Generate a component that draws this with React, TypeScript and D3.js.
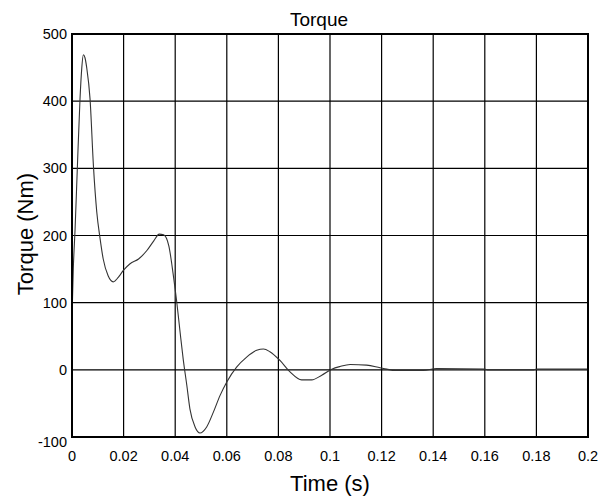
import React, { useEffect, useRef } from 'react';
import * as d3 from 'd3';

const timeS = [
  0, 0.0005, 0.0012, 0.0021, 0.0031, 0.0038, 0.0044, 0.0050, 0.0057, 0.0070,
  0.0083, 0.0096, 0.0109, 0.0121, 0.0140, 0.0160, 0.0180, 0.0199, 0.0225, 0.0258,
  0.0291, 0.0317, 0.0338, 0.0355, 0.0375, 0.0393, 0.0406, 0.0419, 0.0431, 0.0445,
  0.0457, 0.0477, 0.0496, 0.0522, 0.0548, 0.0574, 0.0600, 0.0638, 0.0677, 0.0716,
  0.0742, 0.0767, 0.0806, 0.0845, 0.0890, 0.0929, 0.0968, 0.1007, 0.1039, 0.1078,
  0.1142, 0.1194, 0.1220, 0.1252, 0.1362, 0.1413, 0.1600, 0.1610, 0.1790, 0.1800, 0.2000
];
const torqueNm = [
  78, 150, 210, 304, 403, 450, 469, 465, 450, 403,
  304, 235, 195, 165, 140, 131, 138, 148, 158, 165,
  178, 192, 202, 201, 185, 140, 101, 56, 16, -23,
  -58, -85, -94, -85, -63, -38, -18, 4, 19, 29,
  31, 27, 14, -3, -15, -15, -8, 1, 5, 8,
  7, 3, 1, -1, -1, 2, 1, 0, 0, 1, 1
];
const xTicks = [0, 0.02, 0.04, 0.06, 0.08, 0.1, 0.12, 0.14, 0.16, 0.18, 0.2];
const yTicks = [-100, 0, 100, 200, 300, 400, 500];

const W = 613;
const H = 497;
const FONT = "'Liberation Sans', Arial, Helvetica, sans-serif";

const App: React.FC = () => {
  const svgRef = useRef<SVGSVGElement>(null);

  useEffect(() => {
    if (!svgRef.current) return;
    document.body.style.margin = '0';
    const svg = d3.select(svgRef.current);
    svg.selectAll('*').remove();

    const left = 72, right = 588, top = 34, bottom = 437;

    const x = d3.scaleLinear().domain([0, 0.2]).range([left, right]);
    const y = d3.scaleLinear().domain([-100, 500]).range([bottom, top]);

    svg.append('rect').attr('width', W).attr('height', H).attr('fill', '#fff');

    // grid
    const grid = svg.append('g').attr('stroke', '#000').attr('stroke-width', 1.2);
    xTicks.slice(1, -1).forEach(t => {
      grid.append('line')
        .attr('x1', x(t)).attr('x2', x(t))
        .attr('y1', top).attr('y2', bottom);
    });
    yTicks.slice(1, -1).forEach(v => {
      grid.append('line')
        .attr('x1', left).attr('x2', right)
        .attr('y1', y(v)).attr('y2', y(v));
    });

    // curve
    const pts = timeS.map((t, i) => [t, torqueNm[i]] as [number, number]);
    const line = d3.line<[number, number]>()
      .x(d => x(d[0]))
      .y(d => y(d[1]))
      .curve(d3.curveMonotoneX);
    svg.append('path')
      .attr('d', line(pts) || '')
      .attr('fill', 'none')
      .attr('stroke', '#333')
      .attr('stroke-width', 1.1);

    // frame
    svg.append('rect')
      .attr('x', left).attr('y', top)
      .attr('width', right - left).attr('height', bottom - top)
      .attr('fill', 'none').attr('stroke', '#000').attr('stroke-width', 2);

    // tick labels
    svg.append('g').selectAll('text')
      .data(xTicks)
      .join('text')
      .attr('x', d => x(d))
      .attr('y', 461)
      .attr('text-anchor', 'middle')
      .attr('font-family', FONT)
      .attr('font-size', 14.5)
      .text(d => String(d));

    svg.append('g').selectAll('text')
      .data(yTicks)
      .join('text')
      .attr('x', 67)
      .attr('y', d => y(d) + (d === -100 ? 10 : 5))
      .attr('text-anchor', 'end')
      .attr('font-family', FONT)
      .attr('font-size', 14.5)
      .text(d => String(d));

    // titles
    svg.append('text')
      .attr('x', 319).attr('y', 26)
      .attr('text-anchor', 'middle')
      .attr('font-family', FONT).attr('font-size', 19)
      .text('Torque');

    svg.append('text')
      .attr('x', 330).attr('y', 491)
      .attr('text-anchor', 'middle')
      .attr('font-family', FONT).attr('font-size', 22)
      .text('Time (s)');

    svg.append('text')
      .attr('transform', 'translate(33, 234) rotate(-90)')
      .attr('text-anchor', 'middle')
      .attr('font-family', FONT).attr('font-size', 22)
      .text('Torque (Nm)');
  }, []);

  return <svg ref={svgRef} width={W} height={H} style={{ display: 'block' }} />;
};

export default App;
